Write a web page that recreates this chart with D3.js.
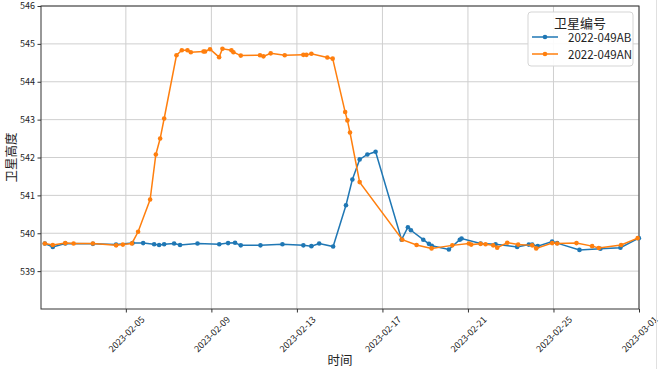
<!DOCTYPE html>
<html>
<head>
<meta charset="utf-8">
<script src="https://cdn.jsdelivr.net/npm/d3@7"></script>
<style>
  body { margin: 0; background: #fff; }
  svg text { font-family: "Noto Sans CJK SC", "DejaVu Sans", sans-serif; fill: #222; }
</style>
</head>
<body>
<svg id="chart" width="660" height="369"></svg>
<script>
// satellite altitude series (km)
const seriesNames = ["2022-049AB", "2022-049AN"];

const abTimes = [
  "2023-02-01T05:00", "2023-02-01T14:00", "2023-02-02T04:00", "2023-02-03T11:00", "2023-02-04T13:00",
  "2023-02-05T07:30", "2023-02-05T19:25", "2023-02-06T07:45", "2023-02-06T13:20", "2023-02-06T19:00",
  "2023-02-07T06:10", "2023-02-07T12:50", "2023-02-08T08:25", "2023-02-09T08:50", "2023-02-09T18:45",
  "2023-02-10T02:35", "2023-02-10T09:00", "2023-02-11T07:05", "2023-02-12T07:45", "2023-02-13T07:15",
  "2023-02-13T16:15", "2023-02-14T01:00", "2023-02-14T16:40", "2023-02-15T07:05", "2023-02-15T14:15",
  "2023-02-15T22:25", "2023-02-16T07:05", "2023-02-16T16:20", "2023-02-17T21:30", "2023-02-18T04:35",
  "2023-02-18T08:00", "2023-02-18T21:50", "2023-02-19T04:10", "2023-02-19T07:25", "2023-02-20T02:35",
  "2023-02-20T14:50", "2023-02-20T16:50", "2023-02-21T14:10", "2023-02-22T07:00", "2023-02-23T07:15",
  "2023-02-23T20:20", "2023-02-24T00:05", "2023-02-24T06:25", "2023-02-24T22:30", "2023-02-25T04:10",
  "2023-02-26T05:10", "2023-02-27T04:40", "2023-02-28T03:10", "2023-02-28T23:50"
];
const abAlt = [
  539.73, 539.64, 539.73, 539.72, 539.70,
  539.74, 539.74, 539.71, 539.69, 539.71,
  539.73, 539.69, 539.73, 539.71, 539.74,
  539.75, 539.68, 539.68, 539.71, 539.68,
  539.66, 539.73, 539.65, 540.74, 541.42,
  541.95, 542.08, 542.15, 539.83, 540.16,
  540.08, 539.83, 539.72, 539.67, 539.57,
  539.83, 539.86, 539.73, 539.71, 539.64,
  539.70, 539.70, 539.66, 539.78, 539.74,
  539.56, 539.59, 539.62, 539.87
];

const anTimes = [
  "2023-02-01T05:00", "2023-02-01T14:00", "2023-02-02T04:00", "2023-02-02T13:20", "2023-02-03T11:00",
  "2023-02-04T13:05", "2023-02-04T20:40", "2023-02-05T06:45", "2023-02-05T13:45", "2023-02-06T03:15",
  "2023-02-06T09:40", "2023-02-06T14:30", "2023-02-06T19:00", "2023-02-07T08:50", "2023-02-07T14:50",
  "2023-02-07T21:10", "2023-02-08T00:55", "2023-02-08T15:10", "2023-02-08T16:55", "2023-02-08T22:30",
  "2023-02-09T08:40", "2023-02-09T12:25", "2023-02-09T22:30", "2023-02-10T00:45", "2023-02-10T09:00",
  "2023-02-11T06:35", "2023-02-11T10:25", "2023-02-11T18:35", "2023-02-12T10:20", "2023-02-13T07:15",
  "2023-02-13T10:40", "2023-02-13T16:15", "2023-02-14T10:10", "2023-02-14T16:10", "2023-02-15T06:10",
  "2023-02-15T08:40", "2023-02-15T11:35", "2023-02-15T22:25", "2023-02-17T22:20", "2023-02-18T14:20",
  "2023-02-19T07:10", "2023-02-20T06:25", "2023-02-21T01:00", "2023-02-21T03:40", "2023-02-21T14:10",
  "2023-02-21T19:45", "2023-02-22T04:20", "2023-02-22T08:50", "2023-02-22T20:05", "2023-02-23T08:25",
  "2023-02-24T00:05", "2023-02-24T04:35", "2023-02-24T22:30", "2023-02-25T04:10", "2023-02-26T01:50",
  "2023-02-26T19:25", "2023-02-27T02:50", "2023-02-28T03:55", "2023-02-28T22:30"
];
const anAlt = [
  539.73, 539.69, 539.74, 539.73, 539.73,
  539.68, 539.70, 539.73, 540.04, 540.89,
  542.08, 542.50, 543.03, 544.70, 544.83,
  544.83, 544.78, 544.80, 544.80, 544.86,
  544.65, 544.87, 544.83, 544.78, 544.69,
  544.70, 544.67, 544.75, 544.70, 544.71,
  544.71, 544.74, 544.64, 544.61, 543.20,
  542.98, 542.66, 541.35, 539.83, 539.69,
  539.60, 539.68, 539.73, 539.70, 539.72,
  539.71, 539.68, 539.62, 539.75, 539.70,
  539.68, 539.60, 539.74, 539.73, 539.74,
  539.66, 539.61, 539.69, 539.87
];

const xTickDates = ["2023-02-05", "2023-02-09", "2023-02-13", "2023-02-17", "2023-02-21", "2023-02-25", "2023-03-01"];
const yTickValues = [539, 540, 541, 542, 543, 544, 545, 546];
const xDomain = ["2023-02-01T00:45", "2023-03-01T00:00"];
const yDomain = [538, 546];

const colors = ["#1f77b4", "#ff7f0e"];
const parseTime = d3.timeParse("%Y-%m-%dT%H:%M");
const parseDay = d3.timeParse("%Y-%m-%d");

const margin = { top: 6, right: 21, bottom: 60, left: 41 };
const width = 660 - margin.left - margin.right;
const height = 369 - margin.top - margin.bottom;

const svg = d3.select("#chart");
const g = svg.append("g").attr("transform", "translate(" + margin.left + "," + margin.top + ")");

const x = d3.scaleTime().domain(xDomain.map(parseTime)).range([0, width]);
const y = d3.scaleLinear().domain(yDomain).range([height, 0]);

// grid
g.append("g")
  .selectAll("line.vg")
  .data(xTickDates.map(parseDay))
  .enter().append("line")
  .attr("x1", d => x(d)).attr("x2", d => x(d))
  .attr("y1", 0).attr("y2", height)
  .attr("stroke", "#cfcfcf").attr("stroke-width", 1);
g.append("g")
  .selectAll("line.hg")
  .data(yTickValues)
  .enter().append("line")
  .attr("x1", 0).attr("x2", width)
  .attr("y1", d => y(d)).attr("y2", d => y(d))
  .attr("stroke", "#cfcfcf").attr("stroke-width", 1);

// x axis
const xAxis = g.append("g")
  .attr("transform", "translate(0," + height + ")")
  .call(d3.axisBottom(x).tickValues(xTickDates.map(parseDay)).tickFormat(d3.timeFormat("%Y-%m-%d")).tickSize(3.5).tickSizeOuter(0));
xAxis.select(".domain").remove();
xAxis.selectAll("line").attr("stroke", "#333");
xAxis.selectAll("text")
  .attr("font-size", 9)
  .attr("text-anchor", "middle")
  .attr("dominant-baseline", "central")
  .attr("y", null).attr("dy", null)
  .attr("transform", "translate(0,25) rotate(-45)");

// y axis
const yAxis = g.append("g")
  .call(d3.axisLeft(y).tickValues(yTickValues).tickFormat(d3.format("d")).tickSize(3.5).tickSizeOuter(0));
yAxis.select(".domain").remove();
yAxis.selectAll("line").attr("stroke", "#333");
yAxis.selectAll("text").attr("font-size", 9).attr("x", -6);

// frame
g.append("rect")
  .attr("width", width).attr("height", height)
  .attr("fill", "none").attr("stroke", "#333").attr("stroke-width", 1);

// series
const series = [
  { name: seriesNames[0], values: abTimes.map((t, i) => ({ t: parseTime(t), v: abAlt[i] })) },
  { name: seriesNames[1], values: anTimes.map((t, i) => ({ t: parseTime(t), v: anAlt[i] })) }
];

const line = d3.line().x(d => x(d.t)).y(d => y(d.v));

series.forEach(function (s, i) {
  g.append("path")
    .datum(s.values)
    .attr("d", line)
    .attr("fill", "none")
    .attr("stroke", colors[i])
    .attr("stroke-width", 1.5);
  g.append("g")
    .selectAll("circle")
    .data(s.values)
    .enter().append("circle")
    .attr("cx", d => x(d.t))
    .attr("cy", d => y(d.v))
    .attr("r", 2.3)
    .attr("fill", colors[i]);
});

// axis labels
svg.append("text")
  .attr("x", margin.left + width / 2).attr("y", 359)
  .attr("text-anchor", "middle").attr("dominant-baseline", "central")
  .attr("font-size", 12.5)
  .text("时间");
svg.append("text")
  .attr("transform", "translate(10.5," + (margin.top + height / 2) + ") rotate(-90)")
  .attr("text-anchor", "middle").attr("dominant-baseline", "central")
  .attr("font-size", 12.5)
  .text("卫星高度");

// legend
const lg = svg.append("g").attr("transform", "translate(528,12)");
lg.append("rect")
  .attr("width", 105).attr("height", 54).attr("rx", 3)
  .attr("fill", "#fff").attr("fill-opacity", 0.9)
  .attr("stroke", "#d5d5d5").attr("stroke-width", 1);
lg.append("text")
  .attr("x", 52).attr("y", 10)
  .attr("text-anchor", "middle").attr("dominant-baseline", "central")
  .attr("font-size", 13)
  .text("卫星编号");
seriesNames.forEach(function (name, i) {
  const yy = 25 + i * 17;
  lg.append("line")
    .attr("x1", 4).attr("x2", 30).attr("y1", yy).attr("y2", yy)
    .attr("stroke", colors[i]).attr("stroke-width", 1.5);
  lg.append("circle").attr("cx", 17).attr("cy", yy).attr("r", 2.3).attr("fill", colors[i]);
  lg.append("text")
    .attr("x", 40).attr("y", yy)
    .attr("dominant-baseline", "central")
    .attr("font-size", 11.5)
    .text(name);
});

// faint figure edge on the right
svg.append("line")
  .attr("x1", 656.5).attr("x2", 656.5).attr("y1", 0).attr("y2", 369)
  .attr("stroke", "#e0e0e0").attr("stroke-width", 1);
</script>
</body>
</html>
